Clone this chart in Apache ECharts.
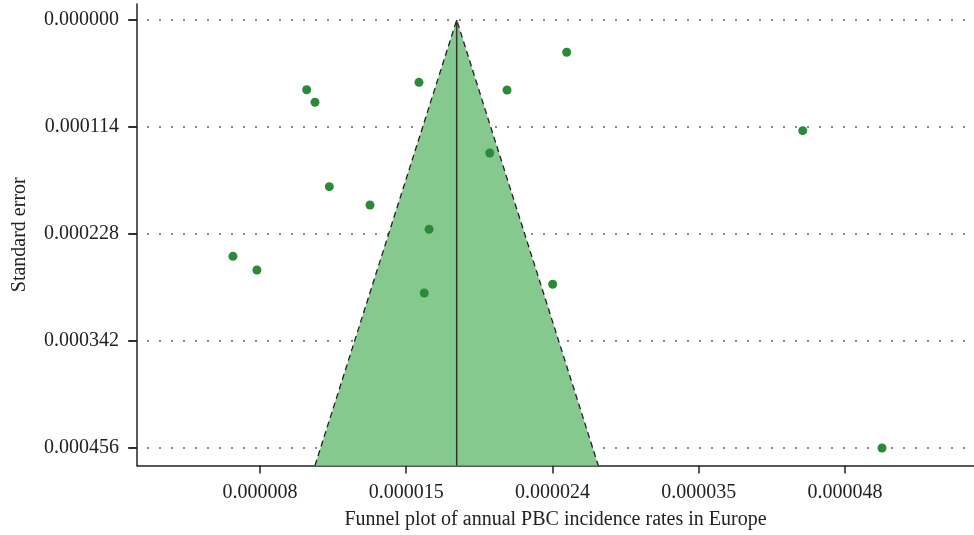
<!DOCTYPE html>
<html>
<head>
<meta charset="utf-8">
<script src="https://cdn.jsdelivr.net/npm/echarts@6/dist/echarts.min.js"></script>
<style>html,body{margin:0;padding:0;background:#fff}#c{width:974px;height:535px}</style>
</head>
<body>
<div id="c"></div>
<script>
// x axis is drawn in equally spaced tick units; labels are the rates shown
const xTickPos = [0, 1, 2, 3, 4];
const xTickLabels = ['0.000008', '0.000015', '0.000024', '0.000035', '0.000048'];
const yTicks = [0, 0.000114, 0.000228, 0.000342, 0.000456];

// studies: x position (tick units) and standard error
const studyX  = [2.097, 1.087, 0.319, 1.689, 0.376, 3.711, 1.571, 0.474, 0.752, 1.156, -0.185, -0.021, 2.001, 1.123, 4.253];
const studySE = [0.0000344, 0.0000664, 0.0000743, 0.0000746, 0.0000877, 0.0001179, 0.0001417, 0.0001776, 0.0001971, 0.000223, 0.0002518, 0.0002664, 0.0002816, 0.0002909, 0.000456];

// funnel: pooled estimate and 95% limits at the largest SE shown
const pooled = 1.345;
const funnelLeft = 0.376;
const funnelRight = 2.313;
const seMax = 0.0004747;
const seMin = -0.00001705;
const xMin = -0.841, xMax = 4.882;

const FONT = '"Liberation Serif", "DejaVu Serif", serif';

const chart = echarts.init(document.getElementById('c'));
chart.setOption({
  animation: false,
  backgroundColor: '#fff',
  grid: { left: 137, right: 0, top: 4, bottom: 69.5, containLabel: false, outerBoundsMode: 'none' },
  xAxis: {
    type: 'value', min: xMin, max: xMax,
    name: 'Funnel plot of annual PBC incidence rates in Europe',
    nameLocation: 'middle', nameGap: 44,
    nameTextStyle: { fontFamily: FONT, fontSize: 20, color: '#222' },
    axisLine: { show: true, onZero: false, lineStyle: { color: '#222', width: 1.5 } },
    axisTick: { show: true, length: 8, customValues: xTickPos, lineStyle: { color: '#222', width: 1.5 } },
    axisLabel: { customValues: xTickPos, margin: 17, fontFamily: FONT, fontSize: 20, color: '#222',
      formatter: v => { const i = xTickPos.indexOf(Math.round(v)); return i >= 0 ? xTickLabels[i] : ''; } },
    splitLine: { show: false }
  },
  yAxis: {
    type: 'value', inverse: true, min: seMin, max: seMax,
    name: 'Standard error', nameLocation: 'middle', nameGap: 107, nameRotate: 90,
    nameTextStyle: { fontFamily: FONT, fontSize: 20, color: '#222' },
    axisLine: { show: true, onZero: false, lineStyle: { color: '#222', width: 1.5 } },
    axisTick: { show: true, inside: false, length: 8, customValues: yTicks, lineStyle: { color: '#222', width: 1.5 } },
    axisLabel: { customValues: yTicks, margin: 18, fontFamily: FONT, fontSize: 20, color: '#222',
      formatter: v => v.toFixed(6) },
    splitLine: { show: false }
  },
  series: [
    {
      type: 'custom', z: 1, silent: true, clip: false,
      data: yTicks.map(v => [xMin, v]),
      renderItem: (params, api) => {
        const a = api.coord([xMin, api.value(1)]);
        const b = api.coord([xMax, api.value(1)]);
        return { type: 'group', children: [
          { type: 'line', shape: { x1: a[0] + 10, y1: a[1], x2: b[0] - 4, y2: b[1] },
            style: { stroke: '#8a8a8a', lineWidth: 2, lineDash: [2, 10] } },
          { type: 'line', shape: { x1: a[0] - 9, y1: a[1], x2: a[0], y2: a[1] },
            style: { stroke: '#222', lineWidth: 1.5 } }
        ] };
      }
    },
    {
      type: 'custom', z: 2, silent: true,
      data: [[pooled, 0]],
      renderItem: (params, api) => {
        const apex = api.coord([pooled, 0]);
        const bl = api.coord([funnelLeft, seMax]);
        const br = api.coord([funnelRight, seMax]);
        return {
          type: 'group',
          children: [
            { type: 'polygon', shape: { points: [apex, br, bl] },
              style: { fill: '#86c98e', stroke: null } },
            { type: 'polyline', shape: { points: [bl, apex, br] },
              style: { fill: null, stroke: '#222', lineWidth: 1.3, lineDash: [6, 4] } },
            { type: 'line', shape: { x1: apex[0], y1: apex[1], x2: apex[0], y2: bl[1] },
              style: { stroke: '#333', lineWidth: 1.5 } }
          ]
        };
      }
    },
    {
      type: 'scatter', z: 3,
      symbolSize: 9,
      itemStyle: { color: '#2a8a3a', opacity: 1 },
      data: studyX.map((x, i) => [x, studySE[i]])
    }
  ]
});
</script>
</body>
</html>
